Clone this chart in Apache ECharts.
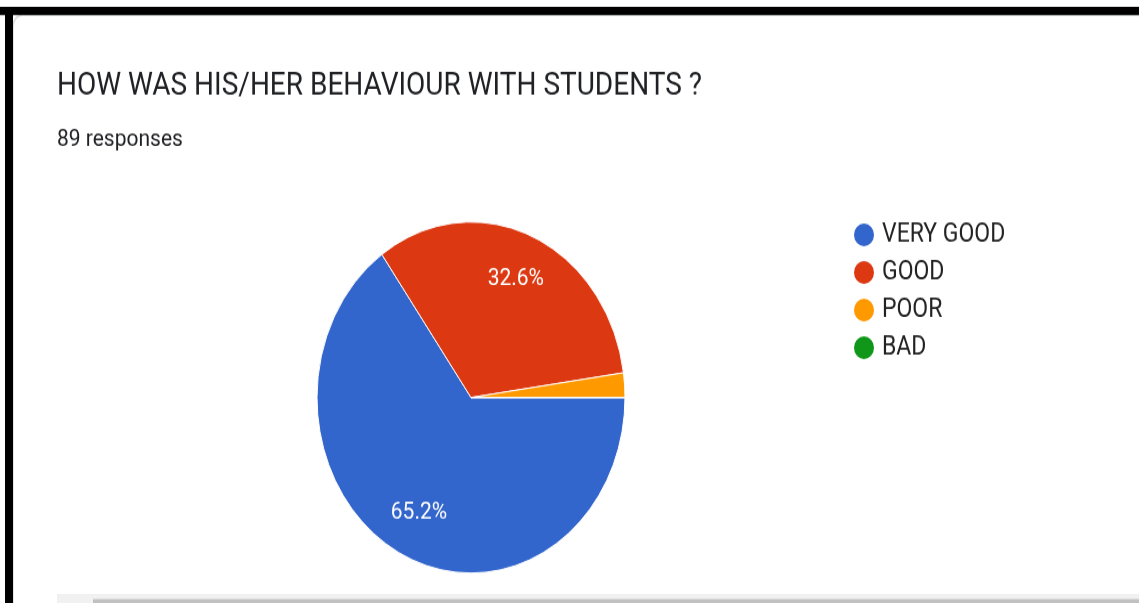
<!DOCTYPE html>
<html>
<head>
<meta charset="utf-8">
<script src="https://cdn.jsdelivr.net/npm/echarts@6/dist/echarts.min.js"></script>
<style>
  html, body { margin: 0; padding: 0; background: #fff; width: 1139px; height: 603px; }
  #wrap { position: relative; width: 1139px; height: 603px; overflow: hidden; }
  /* the source screenshot is stretched vertically, so the chart is too */
  #chart { position: absolute; left: 0; top: 0; width: 1139px; height: 529px;
           transform: scaleY(1.14); transform-origin: 0 0; }
</style>
</head>
<body>
<div id="wrap"><div id="chart"></div></div>
<script>
  const titleText = 'HOW WAS HIS/HER BEHAVIOUR WITH STUDENTS ?';
  const responsesText = '89 responses';
  const categories = ['VERY GOOD', 'GOOD', 'POOR', 'BAD'];
  const counts = [58, 29, 2, 0];
  const colors = ['#3366cc', '#dc3912', '#ff9900', '#109618'];

  const chart = echarts.init(document.getElementById('chart'));

  const pieData = categories.map((name, i) => ({ name, value: counts[i] }));

  const options = {
    color: colors,
    animation: false,
    title: [
      {
        text: titleText, left: 57, top: 61.5, padding: 0,
        textStyle: { fontFamily: 'Roboto', fontSize: 28, fontWeight: 'normal', color: '#202124' }
      },
      {
        text: responsesText, left: 57, top: 112, padding: 0,
        textStyle: { fontFamily: 'Roboto', fontSize: 21, fontWeight: 'normal', color: '#202124' }
      }
    ],
    legend: {
      data: categories,
      orient: 'vertical',
      left: 852,
      top: 194,
      padding: 0,
      icon: 'circle',
      itemWidth: 26,
      itemHeight: 22,
      itemGap: 9,
      selectedMode: false,
      textStyle: { fontFamily: 'Roboto', fontSize: 23, color: '#222', lineHeight: 22, height: 22 }
    },
    graphic: [
      // card outline
      { type: 'rect', shape: { x: 13, y: 13, width: 1140, height: 540, r: 10 },
        style: { fill: '#fff', stroke: '#dadce0', lineWidth: 1.5 }, z: -10 },
      // black frame
      { type: 'rect', shape: { x: 0, y: 6.1, width: 1139, height: 7.1 }, style: { fill: '#000' } },
      { type: 'rect', shape: { x: 5, y: 6.1, width: 8, height: 530 }, style: { fill: '#000' } },
      // bottom scroll strip
      { type: 'rect', shape: { x: 57, y: 521, width: 1082, height: 8 }, style: { fill: '#f1f1f1' } },
      { type: 'rect', shape: { x: 93, y: 525.4, width: 1046, height: 4 }, style: { fill: '#c1c1c1' } }
    ],
    series: [
      {
        type: 'pie',
        center: [471, 348.7],
        radius: 154,
        startAngle: 0,
        clockwise: true,
        data: pieData,
        label: { show: false },
        labelLine: { show: false },
        itemStyle: { borderColor: '#fff', borderWidth: 1 },
        emphasis: { disabled: true }
      },
      {
        // transparent copy used only to place the percentage labels further out
        type: 'pie',
        center: [471, 348.7],
        radius: 221,
        startAngle: 0,
        clockwise: true,
        silent: true,
        percentPrecision: 1,
        data: pieData,
        itemStyle: { color: 'rgba(0,0,0,0)' },
        label: {
          show: true,
          position: 'inside',
          formatter: '{d}%',
          fontFamily: 'Roboto',
          fontSize: 21,
          color: '#fff'
        },
        minShowLabelAngle: 10,
        labelLine: { show: false },
        emphasis: { disabled: true }
      }
    ]
  };

  chart.setOption(options);
</script>
</body>
</html>
